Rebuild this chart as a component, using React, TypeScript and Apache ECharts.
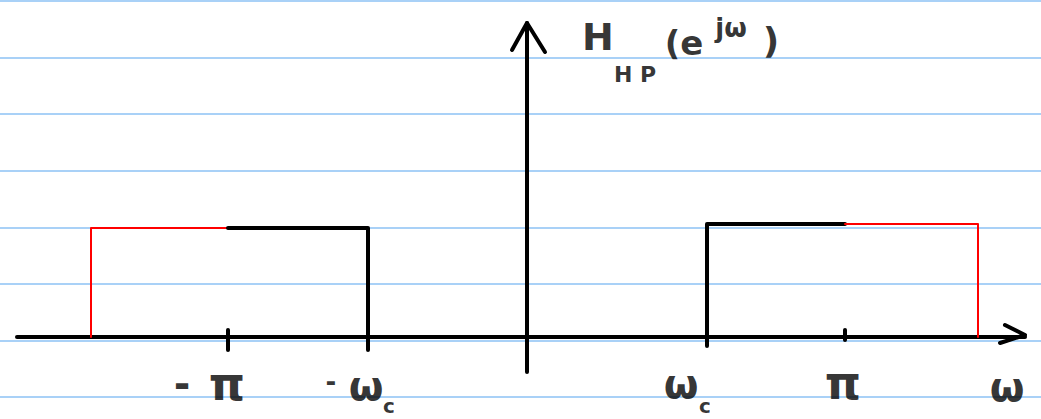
import React, { useEffect, useRef } from "react";
import * as echarts from "echarts";

// ω axis in (approximate) radians, amplitude in arbitrary units
const redLeft: number[][] = [[-4.36, 0], [-4.36, 1.09], [-2.99, 1.09]];
const blackLeft: number[][] = [[-2.99, 1.09], [-1.59, 1.09], [-1.59, -0.13]];
const blackRight: number[][] = [[1.8, -0.09], [1.8, 1.13], [3.18, 1.13]];
const redRight: number[][] = [[3.18, 1.13], [4.51, 1.13], [4.51, 0]];
const tickMinusPi: number[][] = [[-2.99, 0.07], [-2.99, -0.13]];
const tickPi: number[][] = [[3.18, 0.07], [3.18, -0.03]];
const arrowY: number[][] = [[-0.15, 2.87], [0, 3.14], [0.18, 2.85]];
const arrowX: number[][] = [[4.78, 0.12], [4.98, 0.02], [4.73, -0.06]];

const tickLabels = [
  { text: "-", x: -3.45, y: -0.47, size: 40 },
  { text: "π", x: -3.0, y: -0.47, size: 46 },
  { text: "-", x: -1.96, y: -0.45, size: 26 },
  { text: "ω", x: -1.61, y: -0.49, size: 40 },
  { text: "c", x: -1.38, y: -0.69, size: 20 },
  { text: "ω", x: 1.54, y: -0.47, size: 40 },
  { text: "c", x: 1.78, y: -0.69, size: 20 },
  { text: "π", x: 3.16, y: -0.46, size: 46 },
  { text: "ω", x: 4.8, y: -0.5, size: 40 },
];

const titleParts = [
  { text: "H", x: 0.71, y: 3.0, size: 38 },
  { text: "H P", x: 1.08, y: 2.63, size: 22 },
  { text: "(e", x: 1.57, y: 2.94, size: 34 },
  { text: "jω", x: 2.04, y: 3.09, size: 26 },
  { text: ")", x: 2.44, y: 2.97, size: 36 },
];

const NOTEBOOK_LINES = 7;

export default function App() {
  const ref = useRef<HTMLDivElement>(null);
  useEffect(() => {
    document.body.style.margin = "0";
    if (!ref.current) return;
    const chart = echarts.init(ref.current, null, { renderer: "svg" });
    const lineStyle = (color: string, width: number) => ({
      type: "line" as const,
      xAxisIndex: 1,
      yAxisIndex: 1,
      symbol: "none",
      clip: false,
      lineStyle: { color, width, cap: "round", join: "round" },
    });
    const textSeries = (items: { text: string; x: number; y: number; size: number }[]) => ({
      type: "scatter" as const,
      xAxisIndex: 1,
      yAxisIndex: 1,
      symbolSize: 0,
      clip: false,
      silent: true,
      data: items.map((t) => ({
        value: [t.x, t.y],
        label: {
          show: true,
          position: "inside",
          formatter: t.text,
          fontSize: t.size,
          lineHeight: t.size,
          fontWeight: "bold",
          fontFamily: "DejaVu Sans",
          color: "#000",
        },
      })),
    });
    chart.setOption({
      animation: false,
      backgroundColor: "#ffffff",
      grid: [
        { left: 0, right: 0, top: 1, height: 396 },
        { left: 17, width: 1008, top: 23, height: 349 },
      ],
      xAxis: [
        { gridIndex: 0, type: "value", min: 0, max: 1, show: false },
        {
          gridIndex: 1,
          type: "value",
          min: -5.1,
          max: 4.98,
          axisLine: { show: true, onZero: true, lineStyle: { color: "#000", width: 4, cap: "round" } },
          axisTick: { show: false },
          axisLabel: { show: false },
          splitLine: { show: false },
        },
      ],
      yAxis: [
        {
          gridIndex: 0,
          type: "value",
          inverse: true,
          min: 0,
          max: NOTEBOOK_LINES,
          interval: 1,
          axisLine: { show: false },
          axisTick: { show: false },
          axisLabel: { show: false },
          splitLine: { show: true, lineStyle: { color: "#a9d1f7", width: 2 } },
        },
        {
          gridIndex: 1,
          type: "value",
          min: -0.35,
          max: 3.14,
          axisLine: { show: true, onZero: true, lineStyle: { color: "#000", width: 4, cap: "round" } },
          axisTick: { show: false },
          axisLabel: { show: false },
          splitLine: { show: false },
        },
      ],
      series: [
        { type: "line", xAxisIndex: 0, yAxisIndex: 0, data: [], symbol: "none" },
        { ...lineStyle("#000", 4), data: arrowY },
        { ...lineStyle("#000", 4), data: arrowX },
        { ...lineStyle("#000", 4), data: tickMinusPi },
        { ...lineStyle("#000", 4), data: tickPi },
        { ...lineStyle("#ff0000", 2), data: redLeft },
        { ...lineStyle("#000", 4), data: blackLeft },
        { ...lineStyle("#000", 4), data: blackRight },
        { ...lineStyle("#ff0000", 2), data: redRight },
        textSeries(tickLabels),
        textSeries(titleParts),
      ],
    });
    return () => chart.dispose();
  }, []);
  return (
    <div
      ref={ref}
      style={{ position: "fixed", left: 0, top: 0, width: 1041, height: 419, background: "#fff" }}
    />
  );
}
